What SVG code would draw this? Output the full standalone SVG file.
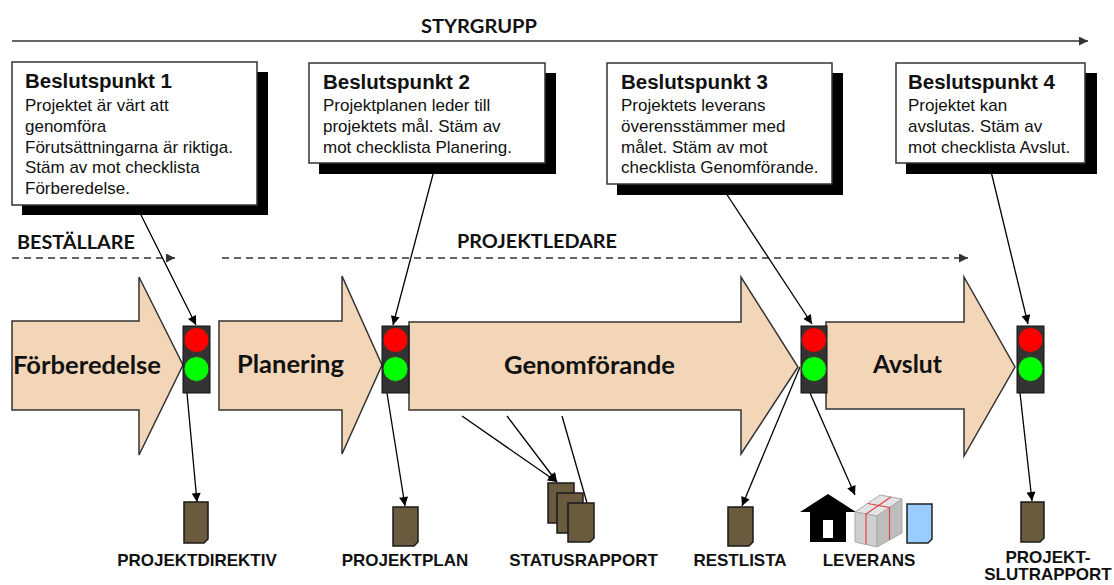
<svg xmlns="http://www.w3.org/2000/svg" width="1114" height="585" viewBox="0 0 1114 585">
<style>
.lane{stroke:#333;stroke-width:1.6;fill:none}
.dash{stroke:#333;stroke-width:1.6;fill:none;stroke-dasharray:7 5}
.con{stroke:#000;stroke-width:1.3;fill:none}
.shadow{fill:#000}
.box{fill:#fff;stroke:#333;stroke-width:1.5}
.ttl{font-family:"Liberation Sans",Arial,sans-serif;font-weight:bold;font-size:19.5px;fill:#111}
.body{font-family:"Liberation Sans",Arial,sans-serif;font-size:17px;fill:#111}
.lbl{font-family:Lato,"Liberation Sans",sans-serif;font-weight:700;font-size:19.5px;fill:#111}
.phase{fill:#F3D5B8;stroke:#333;stroke-width:1.5}
.ptxt{font-family:Lato,"Liberation Sans",sans-serif;font-weight:700;font-size:24px;fill:#111}
.tl{fill:#333;stroke:#111;stroke-width:1}
.red{fill:#FF0000;stroke:#333;stroke-width:1}
.grn{fill:#00FF00;stroke:#333;stroke-width:1}
.doc{fill:#6B5B3E;stroke:#1a1a1a;stroke-width:1.5}
.dlbl{font-family:"Liberation Sans",Arial,sans-serif;font-weight:bold;font-size:17px;fill:#111;text-anchor:middle}
</style>
<defs>
<marker id="ah" viewBox="0 0 10 10" refX="10" refY="5" markerWidth="11" markerHeight="9" markerUnits="userSpaceOnUse" orient="auto"><path d="M0,0 L10,5 L0,10 z" fill="#000"/></marker>
<marker id="ahg" viewBox="0 0 10 10" refX="10" refY="5" markerWidth="11" markerHeight="9" markerUnits="userSpaceOnUse" orient="auto"><path d="M0,0 L10,5 L0,10 z" fill="#333"/></marker>
</defs>
<rect width="1114" height="585" fill="#fff"/>

<g id="lanes">
<line class="lane" x1="12" y1="41" x2="1088" y2="41" marker-end="url(#ahg)"/>
<text class="lbl" x="421" y="33" textLength="116" lengthAdjust="spacingAndGlyphs">STYRGRUPP</text>
<line class="dash" x1="12" y1="258" x2="175" y2="258" marker-end="url(#ahg)"/>
<text class="lbl" x="17" y="249" textLength="118" lengthAdjust="spacingAndGlyphs">BESTÄLLARE</text>
<line class="dash" x1="222" y1="258" x2="968" y2="258" marker-end="url(#ahg)"/>
<text class="lbl" x="457" y="248" textLength="160" lengthAdjust="spacingAndGlyphs">PROJEKTLEDARE</text>
</g>

<g id="connectors">
<line class="con" x1="136" y1="205" x2="196" y2="325" marker-end="url(#ah)"/>
<line class="con" x1="187" y1="393" x2="197" y2="502" marker-end="url(#ah)"/>
<line class="con" x1="436" y1="163" x2="393" y2="325" marker-end="url(#ah)"/>
<line class="con" x1="387" y1="393" x2="405" y2="506" marker-end="url(#ah)"/>
<line class="con" x1="462" y1="416" x2="557" y2="482" marker-end="url(#ah)"/>
<line class="con" x1="507" y1="416" x2="557" y2="482" marker-end="url(#ah)"/>
<line class="con" x1="562" y1="416" x2="587" y2="503"/>
<line class="con" x1="720" y1="184" x2="812" y2="324" marker-end="url(#ah)"/>
<line class="con" x1="800" y1="367" x2="742" y2="506" marker-end="url(#ah)"/>
<line class="con" x1="810" y1="393" x2="855" y2="495" marker-end="url(#ah)"/>
<line class="con" x1="989" y1="163" x2="1028" y2="324" marker-end="url(#ah)"/>
<line class="con" x1="1020" y1="393" x2="1032" y2="501" marker-end="url(#ah)"/>
</g>

<g id="beslutspunkt1">
<rect class="shadow" x="22" y="72" width="246" height="143"/>
<rect class="box" x="12" y="62" width="245" height="143"/>
<text class="ttl" x="25" y="88" textLength="147" lengthAdjust="spacingAndGlyphs">Beslutspunkt 1</text>
<text class="body" x="25" y="111">Projektet är värt att</text>
<text class="body" x="25" y="132">genomföra</text>
<text class="body" x="25" y="152.5">Förutsättningarna är riktiga.</text>
<text class="body" x="25" y="173">Stäm av mot checklista</text>
<text class="body" x="25" y="194">Förberedelse.</text>
</g>
<g id="beslutspunkt2">
<rect class="shadow" x="319" y="73" width="237" height="101"/>
<rect class="box" x="309" y="63" width="236" height="100"/>
<text class="ttl" x="323" y="89" textLength="147" lengthAdjust="spacingAndGlyphs">Beslutspunkt 2</text>
<text class="body" x="323" y="111">Projektplanen leder till</text>
<text class="body" x="323" y="132">projektets mål. Stäm av</text>
<text class="body" x="323" y="152.5">mot checklista Planering.</text>
</g>
<g id="beslutspunkt3">
<rect class="shadow" x="617" y="73" width="226" height="122"/>
<rect class="box" x="607" y="63" width="225" height="121"/>
<text class="ttl" x="621" y="89" textLength="147" lengthAdjust="spacingAndGlyphs">Beslutspunkt 3</text>
<text class="body" x="621" y="111">Projektets leverans</text>
<text class="body" x="621" y="132">överensstämmer med</text>
<text class="body" x="621" y="152.5">målet. Stäm av mot</text>
<text class="body" x="621" y="173">checklista Genomförande.</text>
</g>
<g id="beslutspunkt4">
<rect class="shadow" x="906" y="73" width="191" height="101"/>
<rect class="box" x="896" y="63" width="189" height="100"/>
<text class="ttl" x="908" y="89" textLength="147" lengthAdjust="spacingAndGlyphs">Beslutspunkt 4</text>
<text class="body" x="908" y="111">Projektet kan</text>
<text class="body" x="908" y="132">avslutas. Stäm av</text>
<text class="body" x="908" y="152.5">mot checklista Avslut.</text>
</g>

<g id="forberedelse">
<path class="phase" d="M12,321 H139 V277 L183,365 L139,455 V410 H12 Z"/>
<text class="ptxt" x="13" y="374" textLength="148" lengthAdjust="spacingAndGlyphs">Förberedelse</text>
</g>
<g id="planering">
<path class="phase" d="M219,321 H342 V276 L382,365 L342,454 V410 H219 Z"/>
<text class="ptxt" x="237" y="373" textLength="107" lengthAdjust="spacingAndGlyphs">Planering</text>
</g>
<g id="genomforande">
<path class="phase" d="M409,322 H741 V277 L798,367 L741,454 V410 H409 Z"/>
<text class="ptxt" x="504" y="374" textLength="171" lengthAdjust="spacingAndGlyphs">Genomförande</text>
</g>
<g id="avslut">
<path class="phase" d="M826,322 H964 V277 L1015,367 L964,456 V409 H826 Z"/>
<text class="ptxt" x="873" y="373" textLength="69" lengthAdjust="spacingAndGlyphs">Avslut</text>
</g>

<g id="trafikljus1">
<rect class="tl" x="183" y="326" width="27" height="67"/>
<circle class="red" cx="196.5" cy="340" r="12.5"/>
<circle class="grn" cx="196.5" cy="369" r="12.5"/>
</g>
<g id="trafikljus2">
<rect class="tl" x="382" y="326" width="27" height="67"/>
<circle class="red" cx="395.5" cy="340" r="12.5"/>
<circle class="grn" cx="395.5" cy="369" r="12.5"/>
</g>
<g id="trafikljus3">
<rect class="tl" x="801" y="326" width="26" height="67"/>
<circle class="red" cx="814" cy="340" r="12.5"/>
<circle class="grn" cx="814" cy="369" r="12.5"/>
</g>
<g id="trafikljus4">
<rect class="tl" x="1017" y="326" width="27" height="67"/>
<circle class="red" cx="1030.5" cy="340" r="12.5"/>
<circle class="grn" cx="1030.5" cy="369" r="12.5"/>
</g>

<g id="projektdirektiv">
<path class="doc" d="M184,502 h24 v37 l-4,4 h-20 z"/>
<text class="dlbl" x="197" y="566">PROJEKTDIREKTIV</text>
</g>
<g id="projektplan">
<path class="doc" d="M393,507 h25 v35 l-4,4 h-21 z"/>
<text class="dlbl" x="405" y="566">PROJEKTPLAN</text>
</g>
<g id="statusrapport">
<path class="doc" d="M548,483 h26 v36 l-4,4 h-22 z"/>
<path class="doc" d="M557,493 h26 v36 l-4,4 h-22 z"/>
<path class="doc" d="M568,503 h26 v35 l-4,4 h-22 z"/>
<text class="dlbl" x="583.5" y="566">STATUSRAPPORT</text>
</g>
<g id="restlista">
<path class="doc" d="M728,507 h25 v35 l-4,4 h-21 z"/>
<text class="dlbl" x="740" y="566">RESTLISTA</text>
</g>
<g id="leverans">
<polygon points="800,512 828,494 856,512" fill="#000"/>
<rect x="810" y="511" width="36" height="31" fill="#000"/>
<rect x="823" y="520" width="10" height="18" fill="#fff"/>
<polygon points="855,512 880,495 902,499 877,516" fill="#e4e4e4" stroke="#aaa" stroke-width="1"/>
<polygon points="855,512 877,516 877,547 855,542" fill="#cfcfcf" stroke="#aaa" stroke-width="1"/>
<polygon points="877,516 902,499 902,533 877,547" fill="#bdbdbd" stroke="#aaa" stroke-width="1"/>
<path d="M867.5,503.5 L889.5,507.5 V540 M891,497 L866,514 V544.5" fill="none" stroke="#E04545" stroke-width="1.2"/>
<path d="M907,504 h25 v35 l-4,4 h-21 z" fill="#99CCFF" stroke="#222" stroke-width="1.5"/>
<text class="dlbl" x="869" y="566">LEVERANS</text>
</g>
<g id="slutrapport">
<path class="doc" d="M1021,502 h23 v36 l-4,4 h-19 z"/>
<text class="dlbl" x="1048" y="563">PROJEKT-</text>
<text class="dlbl" x="1048" y="580" font-size="16">SLUTRAPPORT</text>
</g>
</svg>
